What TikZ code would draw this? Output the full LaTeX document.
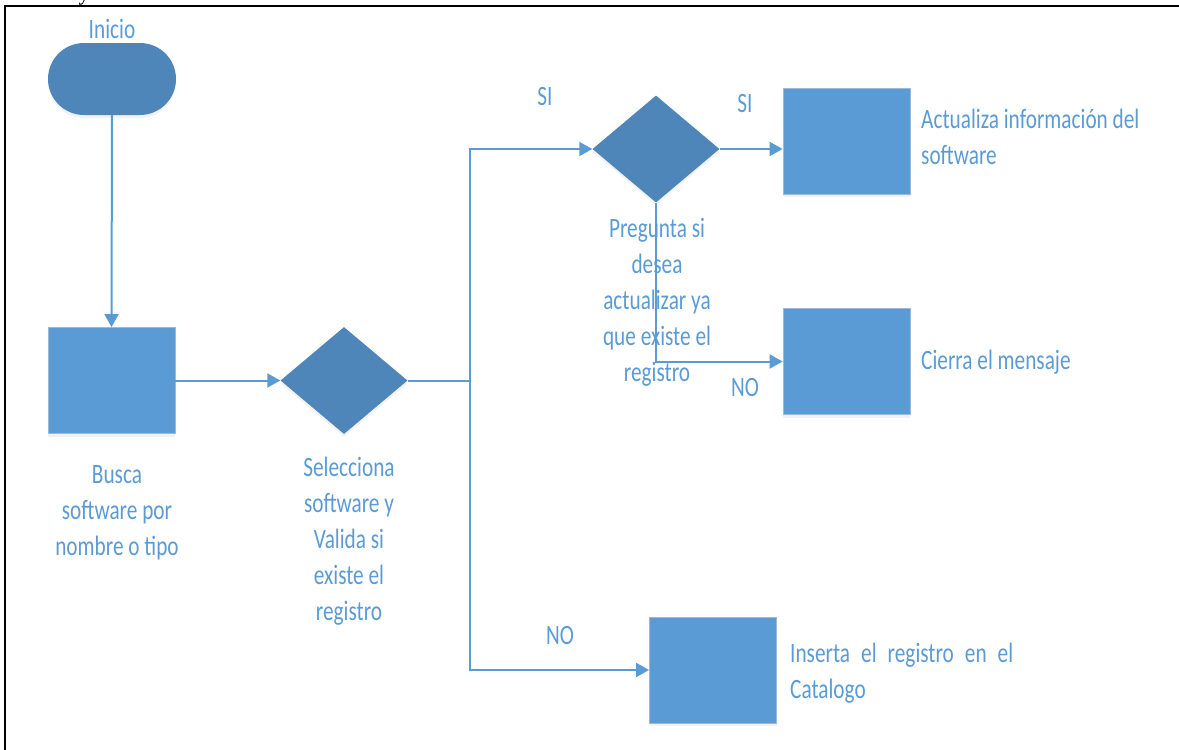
\documentclass[tikz,border=0pt]{standalone}
\usepackage{fontspec}
\setmainfont{Carlito}[FakeStretch=0.76]
\newfontfamily\docserif{Liberation Serif}
\usetikzlibrary{arrows.meta,shapes.geometric,shadows}

\definecolor{lineblue}{HTML}{5B9BD5}
\definecolor{boxblue}{HTML}{5B9BD5}
\definecolor{boxedge}{HTML}{9DB9D6}
\definecolor{darkblue}{HTML}{4E86B9}
\definecolor{txtblue}{HTML}{5B9BD5}

\tikzset{
  softshadow/.style={drop shadow={opacity=0.10, shadow xshift=0pt, shadow yshift=-3pt}},
  procbox/.style={rectangle, fill=boxblue, draw=boxedge, line width=0.8pt,
    minimum width=127pt, minimum height=106pt, inner sep=0pt, softshadow},
  decision/.style={diamond, fill=darkblue, minimum width=127pt,
    minimum height=107pt, inner sep=0pt, softshadow},
  terminal/.style={rectangle, rounded corners=36pt, fill=darkblue,
    minimum width=128pt, minimum height=72pt, inner sep=0pt, softshadow},
  lbl/.style={text=txtblue, font=\fontsize{28}{36}\selectfont, inner sep=0pt},
  link/.style={draw=lineblue, line width=2pt},
  flow/.style={link, -{Triangle[length=13pt,width=14pt]}},
}

\begin{document}
\begin{tikzpicture}[x=1pt, y=-1pt]
\useasboundingbox (0,0) rectangle (1179,750);

% page frame and the line of text above it
\node[anchor=base, inner sep=0pt, font=\docserif\fontsize{22}{26}\selectfont] (ytail) at (84,0) {y};
\draw[line width=2.6pt, line cap=rect] (5,752) -- (5,6) -- (1182,6);

% shapes
\node[terminal] (start) at (112,79) {};
\node[procbox]  (busca) at (111.5,380.5) {};
\node[decision] (valida) at (344,380.5) {};
\node[decision] (pregunta) at (656,149) {};
\node[procbox]  (actualiza) at (846.5,141) {};
\node[procbox]  (cierra) at (846.5,361.5) {};
\node[procbox]  (inserta) at (713,670) {};

\coordinate (split) at (470,380.5);

% connectors
\draw[flow] (start.south) -- (busca.north);
\draw[flow] (busca.east) -- (valida.west);
\draw[link] (valida.east) -- (split);
\draw[flow] (split) |- (pregunta.west);
\draw[flow] (split) |- (inserta.west);
\draw[flow] (pregunta.east) -- (pregunta.east -| actualiza.west);
\draw[flow] (pregunta.south) |- (cierra.west);

% captions
\node[lbl] (tinicio) at (112,29) {Inicio};
\node[lbl, align=center, anchor=north] (tbusca) at (117,465)
  {Busca\\software por\\nombre o tipo};
\node[lbl, align=center, anchor=north] (tvalida) at (349,457)
  {Selecciona\\software y\\Valida si\\existe el\\registro};
\node[lbl, align=center, anchor=north] (tpregunta) at (657,218)
  {Pregunta si\\desea\\actualizar ya\\que existe el\\registro};
\node[lbl, align=left, anchor=north west] (tactualiza) at (921,109)
  {Actualiza información del\\software};
\node[lbl, anchor=north west] (tcierra) at (921,350) {Cierra el mensaje};
\node[lbl, align=left, anchor=north west] (tinserta) at (790,643)
  {\makebox[223pt][s]{Inserta el registro en el}\\Catalogo};

% branch labels
\node[lbl] (si1) at (545,97) {SI};
\node[lbl] (si2) at (745,104) {SI};
\node[lbl] (no1) at (745,388) {NO};
\node[lbl] (no2) at (560,636) {NO};
\end{tikzpicture}
\end{document}
